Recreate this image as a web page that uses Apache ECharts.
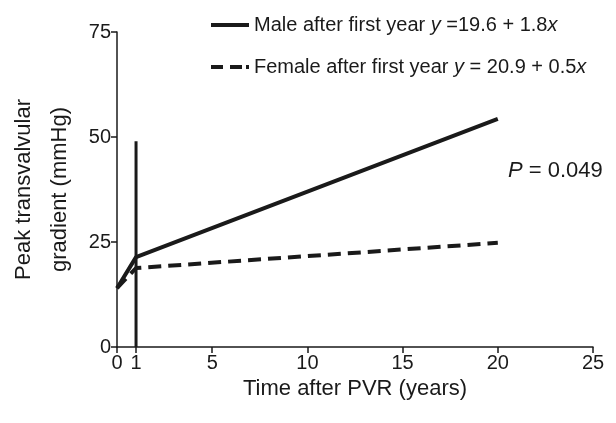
<!DOCTYPE html>
<html>
<head>
<meta charset="utf-8">
<script src="https://cdn.jsdelivr.net/npm/echarts@6/dist/echarts.min.js"></script>
<style>
  html, body { margin: 0; padding: 0; background: #fff; }
  #chart { width: 616px; height: 423px; }
</style>
</head>
<body>
<div id="chart"></div>
<script>
// values
const xTicks = [0, 1, 5, 10, 15, 20, 25];
const yTicks = [0, 25, 50, 75];
const maleX = [0, 1, 20];
const maleY = [14, 21.4, 54.3];
const femaleX = [0, 1, 20];
const femaleY = [14, 18.8, 24.8];
const markerX = [1, 1];
const markerY = [0, 49];
const pValue = '0.049';

const font = '"Liberation Sans", Arial, sans-serif';
const ink = '#1a1a1a';
const zip = (xs, ys) => xs.map((x, i) => [x, ys[i]]);

const legendText = {
  'Male': '{n|Male after first year }{i|y}{n| =19.6 + 1.8}{i|x}',
  'Female': '{n|Female after first year }{i|y}{n| = 20.9 + 0.5}{i|x}'
};
// plain line samples for the key
const solidIcon = 'path://M0,0h38v4h-38z';
const dashIcon = 'path://M0,0h12v4h-12z M19,0h12v4h-12z M35,0h3v4h-3z';

const chart = echarts.init(document.getElementById('chart'));
chart.setOption({
  animation: false,
  textStyle: { fontFamily: font, color: ink },
  grid: { left: 117, right: 23, top: 32, bottom: 76, outerBoundsMode: 'none', containLabel: false },
  legend: {
    orient: 'vertical',
    left: 206,
    top: 10,
    itemWidth: 38,
    itemHeight: 4,
    itemGap: 22,
    data: [
      { name: 'Male', icon: solidIcon },
      { name: 'Female', icon: dashIcon }
    ],
    formatter: name => legendText[name],
    textStyle: {
      rich: {
        n: { fontFamily: font, fontSize: 20, color: ink },
        i: { fontFamily: font, fontSize: 20, fontStyle: 'italic', color: ink }
      }
    }
  },
  xAxis: {
    type: 'value',
    min: 0,
    max: 25,
    name: 'Time after PVR (years)',
    nameLocation: 'middle',
    nameGap: 29,
    nameTextStyle: { fontSize: 22, color: ink },
    splitLine: { show: false },
    axisLine: { onZero: false, lineStyle: { color: ink, width: 1.5 } },
    axisTick: { customValues: xTicks, length: 6, lineStyle: { color: ink, width: 1.5 } },
    axisLabel: { customValues: xTicks, fontSize: 20, color: ink, margin: 6 }
  },
  yAxis: {
    type: 'value',
    min: 0,
    max: 75,
    interval: 25,
    name: 'Peak transvalvular\ngradient (mmHg)',
    nameLocation: 'middle',
    nameGap: 35,
    nameRotate: 90,
    nameTextStyle: { fontSize: 22, color: ink, lineHeight: 36 },
    splitLine: { show: false },
    axisLine: { show: true, lineStyle: { color: ink, width: 1.5 } },
    axisTick: { show: true, length: 6, lineStyle: { color: ink, width: 1.5 } },
    axisLabel: { fontSize: 20, color: ink, margin: 6 }
  },
  series: [
    {
      name: 'Male',
      type: 'line',
      symbol: 'none',
      data: zip(maleX, maleY),
      lineStyle: { color: ink, width: 4, type: 'solid' },
      itemStyle: { color: ink }
    },
    {
      name: 'Female',
      type: 'line',
      symbol: 'none',
      data: zip(femaleX, femaleY),
      lineStyle: { color: ink, width: 4, type: [13, 7] },
      itemStyle: { color: ink }
    },
    {
      name: 'marker',
      type: 'line',
      symbol: 'none',
      data: zip(markerX, markerY),
      lineStyle: { color: ink, width: 3 },
      silent: true
    }
  ],
  graphic: [
    {
      type: 'text',
      left: 508,
      top: 160,
      style: {
        text: '{i|P}{n| = ' + pValue + '}',
        rich: {
          n: { fontFamily: font, fontSize: 22, fill: ink },
          i: { fontFamily: font, fontSize: 22, fontStyle: 'italic', fill: ink }
        }
      }
    }
  ]
});
</script>
</body>
</html>
